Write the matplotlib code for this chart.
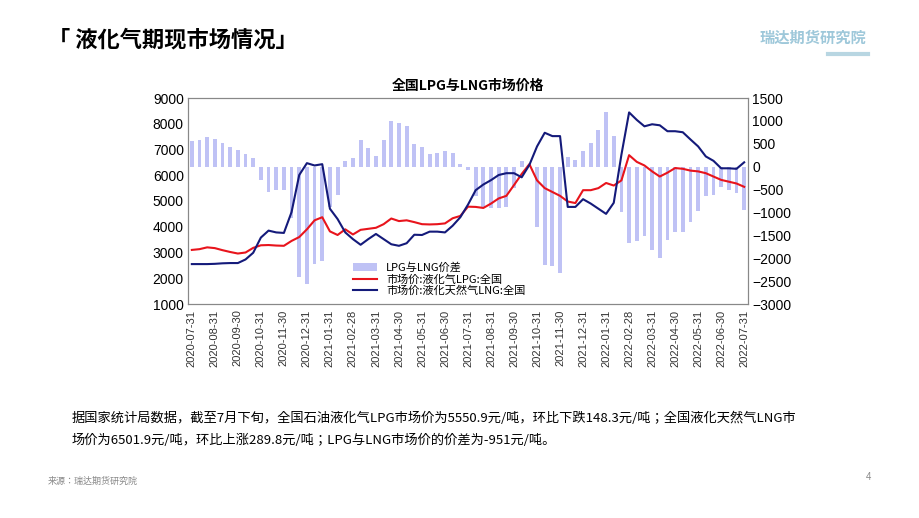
import matplotlib
matplotlib.use("Agg")
import matplotlib.pyplot as plt
from matplotlib import font_manager as fm
import numpy as np

month_labels = ["2020-07-31","2020-08-31","2020-09-30","2020-10-31","2020-11-30","2020-12-31",
                "2021-01-31","2021-02-28","2021-03-31","2021-04-30","2021-05-31","2021-06-30",
                "2021-07-31","2021-08-31","2021-09-30","2021-10-31","2021-11-30","2021-12-31",
                "2022-01-31","2022-02-28","2022-03-31","2022-04-30","2022-05-31","2022-06-30","2022-07-31"]

lpg = [3100,3130,3200,3170,3090,3020,2960,3000,3180,3280,
       3290,3270,3260,3450,3600,3900,4250,4370,3820,3680,
       3900,3700,3880,3920,3960,4100,4320,4220,4250,4180,
       4100,4090,4100,4130,4330,4420,4780,4770,4730,4900,
       5100,5200,5620,6050,6430,5800,5500,5350,5200,4980,
       4920,5420,5420,5500,5700,5600,5800,6780,6520,6380,
       6150,5950,6100,6280,6250,6180,6150,6080,5950,5820,
       5750,5680,5550.9]
lng = [2550,2550,2550,2560,2580,2590,2590,2730,2990,3580,
       3850,3780,3760,4570,6010,6470,6380,6430,4700,4300,
       3780,3520,3300,3520,3720,3520,3320,3260,3360,3690,
       3680,3810,3810,3780,4040,4370,4860,5420,5640,5810,
       6010,6080,6080,5920,6400,7120,7650,7520,7520,4770,
       4770,5070,4900,4700,4500,4930,6800,8440,8150,7900,
       7980,7940,7710,7710,7670,7390,7120,6730,6560,6270,
       6270,6250,6501.9]
spread = [a - b for a, b in zip(lpg, lng)]

names = sorted({f.name for f in fm.fontManager.ttflist})
CJK = "DejaVu Sans"
for pref in ["Noto Sans CJK SC", "Noto Sans CJK JP", "Noto Sans CJK TC", "Noto Sans CJK KR"]:
    if pref in names:
        CJK = pref
        break
else:
    for n in names:
        if "Sans" in n and "CJK" in n:
            CJK = n
            break

plt.rcParams["font.family"] = ["Liberation Sans", CJK]
fig = plt.figure(figsize=(9.2, 5.18), dpi=100)
fig.patch.set_facecolor("white")

x = np.arange(len(lpg))
ax = fig.add_axes([188/920, 1-304/518, 560/920, 206/518])
ax2 = ax.twinx()
ax.set_zorder(2); ax.patch.set_visible(False)
ax2.set_zorder(1)
b = ax2.bar(x, spread, width=0.5, color="#bfc2f5", label="LPG与LNG价差")
ax2.set_ylim(-3000, 1500)
ax2.set_yticks(range(-3000, 1501, 500))
l1, = ax.plot(x, lpg, color="#e8141c", lw=1.5, label="市场价:液化气LPG:全国")
l2, = ax.plot(x, lng, color="#141a7a", lw=1.5, label="市场价:液化天然气LNG:全国")
ax.set_ylim(1000, 9000)
ax.set_yticks(range(1000, 9001, 1000))
ax.set_xlim(-0.5, len(lpg) - 0.5)
ax.set_xticks(np.arange(0, len(lpg), 3))
ax.set_xticklabels(month_labels, rotation=90, fontsize=8, color="#333333")
for a in (ax, ax2):
    a.tick_params(axis="y", labelsize=10, length=0, pad=3)
    for s in a.spines.values():
        s.set_color("#888888")
ax.tick_params(axis="x", length=0, pad=4)
ax.legend([b, l1, l2], [b.get_label(), l1.get_label(), l2.get_label()],
          loc="lower left", bbox_to_anchor=(0.28, 0.0), frameon=False,
          prop={"family": CJK, "size": 8}, handlelength=2.2, labelspacing=0.1, borderaxespad=0.3)
ax.set_title("全国LPG与LNG市场价格", fontsize=10, fontweight="bold", pad=6, fontfamily=CJK)

fig.text(48/920, 1-40/518, "「 液化气期现市场情况」", fontsize=16, fontweight="bold",
         fontfamily=CJK, va="center")
fig.text(760/920, 1-38/518, "瑞达期货研究院", fontsize=11, color="#9ec8da", fontweight="bold",
         fontfamily=CJK, va="center")
fig.add_artist(plt.Line2D([828/920, 868/920], [1-54/518, 1-54/518], color="#b8d6e2", lw=3))
fig.text(72/920, 1-418/518,
         "据国家统计局数据，截至7月下旬，全国石油液化气LPG市场价为5550.9元/吨，环比下跌148.3元/吨；全国液化天然气LNG市",
         fontsize=9.5, fontfamily=CJK, va="center")
fig.text(72/920, 1-440/518,
         "场价为6501.9元/吨，环比上涨289.8元/吨；LPG与LNG市场价的价差为-951元/吨。",
         fontsize=9.5, fontfamily=CJK, va="center")
fig.text(48/920, 1-481/518, "来源：瑞达期货研究院", fontsize=6.5, color="#888888",
         fontfamily=CJK, va="center")
fig.text(866/920, 1-477/518, "4", fontsize=7, color="#888888", va="center")

fig.savefig("out.png", dpi=100)
